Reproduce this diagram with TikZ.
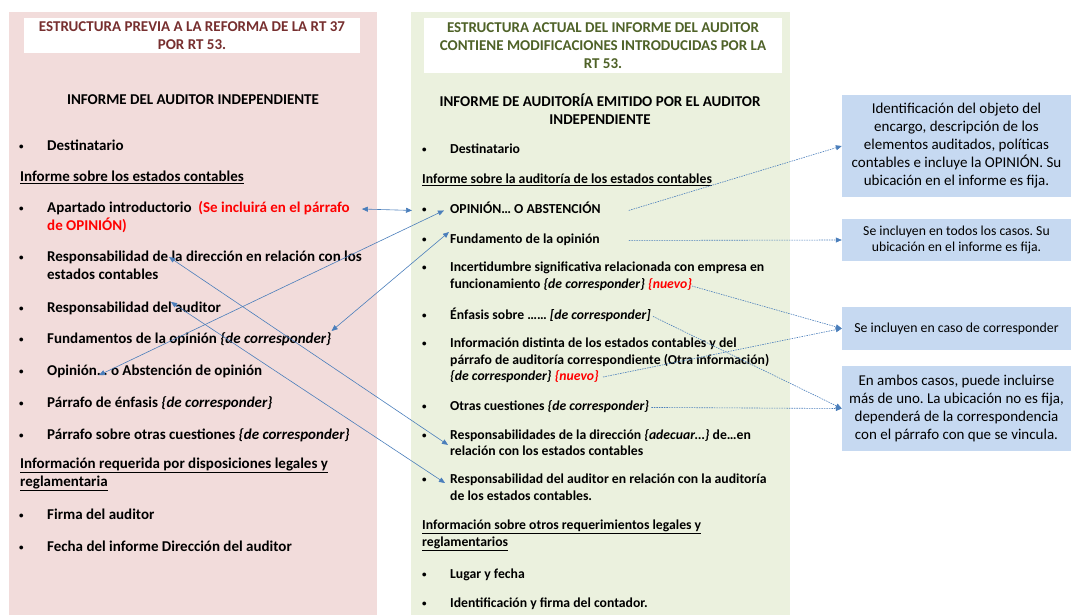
\documentclass[tikz,border=0pt]{standalone}
\usepackage{fontspec}
\setmainfont{Carlito}
\usetikzlibrary{arrows.meta}
\definecolor{panelpink}{HTML}{F2DCDB}
\definecolor{panelgreen}{HTML}{EBF1DE}
\definecolor{boxblue}{HTML}{C6D9F1}
\definecolor{linkblue}{HTML}{4A7EBB}
\definecolor{titlered}{HTML}{772F2F}
\definecolor{titlegreen}{HTML}{4F6228}
\frenchspacing
\newcommand\bul{\makebox[28pt][l]{\raisebox{1pt}{\fontsize{9}{9}\selectfont\textbullet}}}
\newcommand\ind{\hspace*{28pt}}
\tikzset{
	item/.style={anchor=north west, inner sep=0pt, align=left, font=\fontsize{15}{18}\selectfont\bfseries, execute at begin node=\strut},
	mitem/.style={item, font=\fontsize{13.7}{16.5}\selectfont\bfseries},
	headbox/.style={fill=white, inner sep=0pt, align=center, font=\fontsize{15}{18}\selectfont\bfseries},
	notebox/.style={fill=boxblue, inner sep=0pt, minimum width=229pt, align=center, font=\fontsize{15}{18}\selectfont},
	link/.style={{Triangle[width=5pt,length=6pt]}-{Triangle[width=5pt,length=6pt]}, color=linkblue, line width=0.6pt},
	hint/.style={-{Triangle[width=5pt,length=6pt]}, color=linkblue, line width=0.6pt, dash pattern=on 1.5pt off 1pt}
}
\begin{document}
\begin{tikzpicture}[x=1pt, y=-1pt]
			%%%%% START %%%%%
			\useasboundingbox (0, 0) rectangle (1071, 615);
			
			\fill[panelpink] (9, 12) rectangle (377, 615);
			\fill[panelgreen] (411, 12) rectangle (790, 615);
			
			\node[headbox, minimum width=336pt, minimum height=35pt, text=titlered] (lhead) at (192, 35.5) {ESTRUCTURA PREVIA A LA REFORMA DE LA RT 37\\POR RT 53.};
			\node[headbox, minimum width=358pt, minimum height=55pt, text=titlegreen] (mhead) at (603, 45.5) {ESTRUCTURA ACTUAL DEL INFORME DEL AUDITOR\\CONTIENE MODIFICACIONES INTRODUCIDAS POR LA\\RT 53.};
			
			\node[font=\fontsize{15}{18}\selectfont\bfseries] (ltitle) at (193, 100) {INFORME DEL AUDITOR INDEPENDIENTE};
			\node[align=center, font=\fontsize{15}{18}\selectfont\bfseries] (mtitle) at (600, 109) {INFORME DE AUDITORÍA EMITIDO POR EL AUDITOR\\INDEPENDIENTE};
			
			% left column
			\node[item] (ldest) at (19, 138) {\bul Destinatario};
			\node[item] (lsec1) at (20, 169) {\underline{Informe sobre los estados contables}};
			\node[item] (lapart) at (19, 201) {\bul Apartado introductorio \ \textcolor{red}{(Se incluirá en el párrafo}\\\ind\textcolor{red}{de OPINIÓN)}};
			\node[item] (lresdir) at (19, 251) {\bul Responsabilidad de la dirección en relación con los\\\ind estados contables};
			\node[item] (lresaud) at (19, 300) {\bul Responsabilidad del auditor};
			\node[item] (lfund) at (19, 331) {\bul Fundamentos de la opinión \textit{\{de corresponder\}}};
			\node[item] (lopin) at (19, 363) {\bul Opinión… o Abstención de opinión};
			\node[item] (lenf) at (19, 395) {\bul Párrafo de énfasis \textit{\{de corresponder\}}};
			\node[item] (lotras) at (19, 427) {\bul Párrafo sobre otras cuestiones \textit{\{de corresponder\}}};
			\node[item] (lsec2) at (20, 458) {\underline{Información requerida por disposiciones legales y}\\\underline{reglamentaria}};
			\node[item] (lfirma) at (19, 507) {\bul Firma del auditor};
			\node[item] (lfecha) at (19, 539) {\bul Fecha del informe Dirección del auditor};
			
			% middle column
			\node[mitem] (mdest) at (422, 142) {\bul Destinatario};
			\node[mitem] (msec1) at (422, 172) {\underline{Informe sobre la auditoría de los estados contables}};
			\node[mitem] (mopin) at (422, 202) {\bul OPINIÓN… O ABSTENCIÓN};
			\node[mitem] (mfund) at (422, 232) {\bul Fundamento de la opinión};
			\node[mitem] (mincert) at (422, 262) {\bul Incertidumbre significativa relacionada con empresa en\\\ind funcionamiento \textit{\{de corresponder\}} \textcolor{red}{\textit{\{nuevo\}}}};
			\node[mitem] (menf) at (422, 308) {\bul Énfasis sobre …… \textit{[de corresponder]}};
			\node[mitem] (minfo) at (422, 338) {\bul Información distinta de los estados contables y del\\\ind párrafo de auditoría correspondiente (Otra información)\\\ind\textit{\{de corresponder\}} \textcolor{red}{\textit{\{nuevo\}}}};
			\node[mitem] (motras) at (422, 399) {\bul Otras cuestiones \textit{\{de corresponder\}}};
			\node[mitem] (mresdir) at (422, 429) {\bul Responsabilidades de la dirección \textit{\{adecuar…\}} de…en\\\ind relación con los estados contables};
			\node[mitem] (mresaud) at (422, 474) {\bul Responsabilidad del auditor en relación con la auditoría\\\ind de los estados contables.};
			\node[mitem] (msec2) at (422, 520) {\underline{Información sobre otros requerimientos legales y}\\\underline{reglamentarios}};
			\node[mitem] (mlugar) at (422, 567) {\bul Lugar y fecha};
			\node[mitem] (mident) at (422, 596) {\bul Identificación y firma del contador.};
			
			% right notes
			\node[notebox, minimum height=102pt] (robj) at (956.5, 146) {Identificación del objeto del\\encargo, descripción de los\\elementos auditados, políticas\\contables e incluye la OPINIÓN. Su\\ubicación en el informe es fija.};
			\node[notebox, minimum height=42pt, font=\fontsize{13.7}{16}\selectfont] (rtodos) at (956.5, 240) {Se incluyen en todos los casos. Su\\ubicación en el informe es fija.};
			\node[notebox, minimum height=43pt, font=\fontsize{13.8}{16}\selectfont] (rcaso) at (956.5, 328.5) {Se incluyen en caso de corresponder};
			\node[notebox, minimum height=85pt] (rambos) at (956.5, 408.5) {En ambos casos, puede incluirse\\más de uno. La ubicación no es fija,\\dependerá de la correspondencia\\con el párrafo con que se vincula.};
			
			% links between both structures
			\draw[link] ([shift={(12,8)}]lapart.north east) -- ([shift={(-10,0)}]mopin.west);
			\draw[link] ([shift={(80,3)}]lopin.west) -- ([shift={(22,0)}]mopin.west);
			\draw[link] (lfund.north east) -- ([shift={(27,0)}]mfund.north west);
			\draw[link] ([shift={(150,6)}]lresdir.north west) -- ([shift={(26,0)}]mresdir.west);
			\draw[link] ([shift={(152,2)}]lresaud.north west) -- ([shift={(23,9)}]mresaud.north west);
			
			% notes
			\draw[hint] ([shift={(28,0)}]mopin.east) -- (robj.west);
			\draw[hint] ([shift={(29,0)}]mfund.east) -- (rtodos.west);
			\draw[hint] ([shift={(270,24)}]mincert.north west) -- (rcaso.west);
			\draw[hint] ([shift={(181,39)}]minfo.north west) -- (rcaso.west);
			\draw[hint] ([shift={(2,0)}]menf.east) -- (rambos.west);
			\draw[hint] ([shift={(2,0)}]motras.east) -- (rambos.west);
			
			%%%%% END %%%%%
\end{tikzpicture}
\end{document}
